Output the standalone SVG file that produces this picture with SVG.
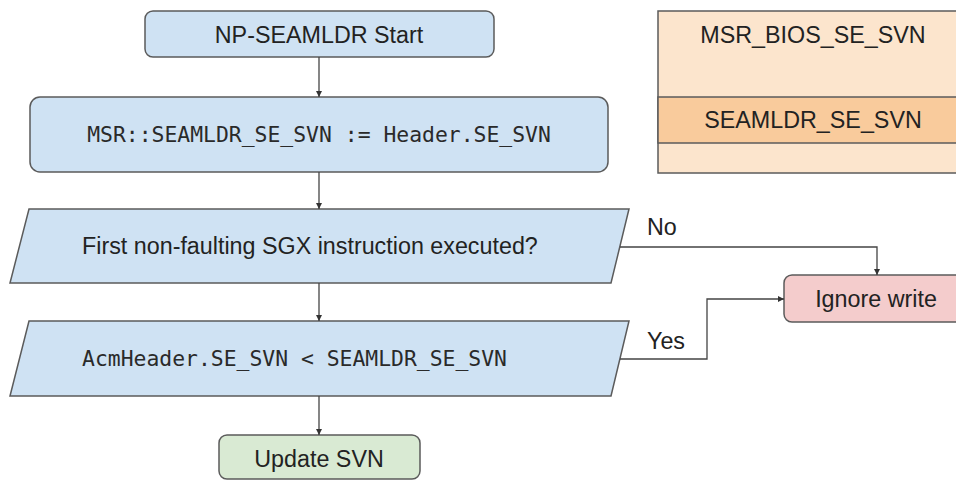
<svg xmlns="http://www.w3.org/2000/svg" width="956" height="480" viewBox="0 0 956 480">
  <style>
    .sh { stroke: #5b5b5b; stroke-width: 1.5; }
    .blue { fill: #cfe2f3; }
    .t { font-family: "Liberation Sans", Arial, sans-serif; font-size: 23.3px; fill: #222222; }
    .m { font-family: "DejaVu Sans Mono", "Liberation Mono", monospace; font-size: 21.4px; fill: #2a2a2a; }
    .c { text-anchor: middle; }
    .conn { fill: none; stroke: #444444; stroke-width: 1.3; }
  </style>
  <defs>
    <marker id="arr" viewBox="0 0 10 10" refX="10" refY="5" markerWidth="6" markerHeight="6" markerUnits="userSpaceOnUse" orient="auto">
      <path d="M0,0 L10,5 L0,10 z" fill="#333333"/>
    </marker>
  </defs>
  <rect width="956" height="480" fill="#ffffff"/>

  <g id="msr-bios">
    <rect x="658" y="11" width="310" height="162" fill="#fce5cd" class="sh"/>
    <rect x="658" y="97" width="310" height="46" fill="#f9cb9c" class="sh"/>
    <text x="813" y="43" class="t c">MSR_BIOS_SE_SVN</text>
    <text x="813" y="128" class="t c">SEAMLDR_SE_SVN</text>
  </g>

  <g id="start">
    <rect x="145" y="11" width="349" height="46" rx="8" class="sh blue"/>
    <text x="319" y="43" class="t c">NP-SEAMLDR Start</text>
  </g>

  <g id="assign">
    <rect x="30" y="97" width="578" height="75" rx="10" class="sh blue"/>
    <text x="319" y="142" class="m c">MSR::SEAMLDR_SE_SVN := Header.SE_SVN</text>
  </g>

  <g id="decision1">
    <polygon points="29,209 629,209 611,283 10,283" class="sh blue"/>
    <text x="82" y="254" class="t">First non-faulting SGX instruction executed?</text>
  </g>

  <g id="decision2">
    <polygon points="29,321 629,321 611,396 10,396" class="sh blue"/>
    <text x="82" y="366" class="m">AcmHeader.SE_SVN &lt; SEAMLDR_SE_SVN</text>
  </g>

  <g id="ignore">
    <rect x="784" y="275" width="183" height="47" rx="8" fill="#f4cccc" class="sh"/>
    <text x="876" y="307" class="t c">Ignore write</text>
  </g>

  <g id="update">
    <rect x="219" y="435" width="201" height="44" rx="8" fill="#d9ead3" class="sh"/>
    <text x="319" y="467" class="t c">Update SVN</text>
  </g>

  <g id="connectors">
    <path d="M319,57 V97" class="conn" marker-end="url(#arr)"/>
    <path d="M319,172 V209" class="conn" marker-end="url(#arr)"/>
    <path d="M319,283 V321" class="conn" marker-end="url(#arr)"/>
    <path d="M319,396 V435" class="conn" marker-end="url(#arr)"/>
    <path d="M620,247 H877 V275" class="conn" marker-end="url(#arr)"/>
    <path d="M620,359 H707 V299 H784" class="conn" marker-end="url(#arr)"/>
    <text x="647" y="235" class="t">No</text>
    <text x="647" y="349" class="t">Yes</text>
  </g>
</svg>
